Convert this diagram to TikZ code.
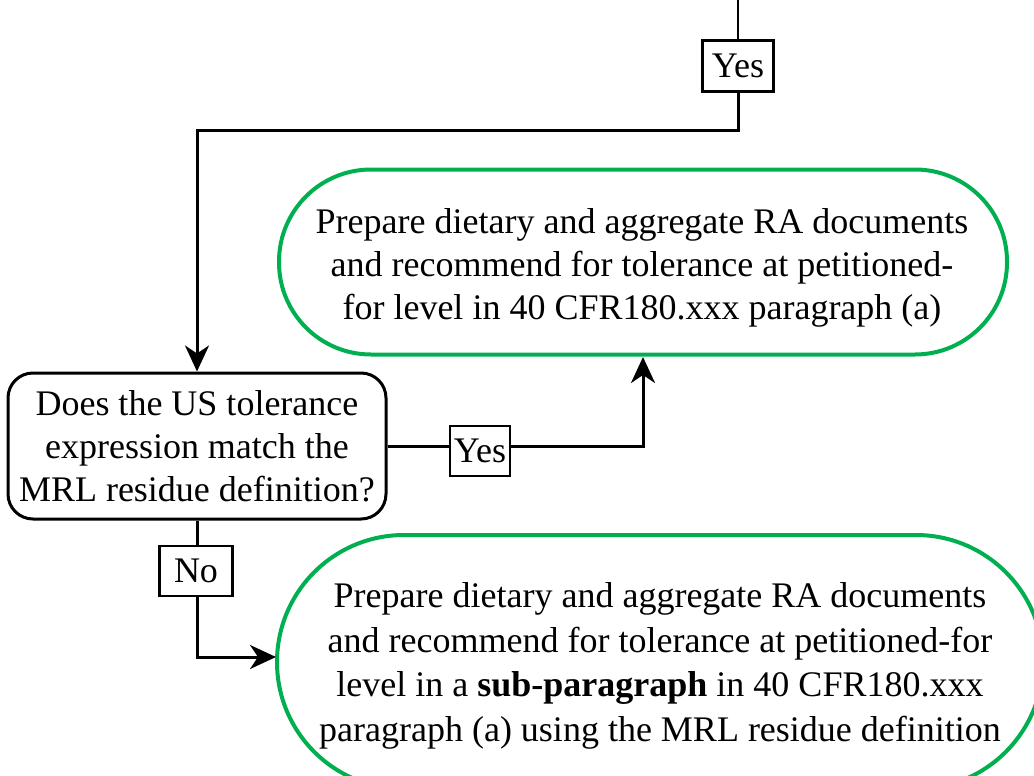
\documentclass[tikz,border=0pt]{standalone}
\usepackage{fontspec}
\setmainfont{Liberation Serif}
\usetikzlibrary{arrows.meta}
\definecolor{termgreen}{RGB}{0,176,80}
\begin{document}
\begin{tikzpicture}[x=1pt,y=-1pt,
  txt/.style={font=\fontsize{36}{43}\selectfont},
  decision/.style={txt, draw, line width=3pt, rounded corners=25pt, minimum width=378pt, minimum height=146pt, inner sep=0pt, align=center},
  term/.style={draw=termgreen, line width=4pt, inner sep=0pt},
  termtext/.style={txt, inner sep=0pt, align=center},
  lbl/.style={txt, draw, fill=white, line width=2.5pt, inner sep=0pt},
  conn/.style={line width=3pt},
  arr/.style={conn, -{Stealth[length=26pt,width=24pt,inset=8pt]}}]
\useasboundingbox (0,0) rectangle (1034,776);
\clip (0,0) rectangle (1034,776);

\node[decision] (dec) at (197,446) {Does the US tolerance\\expression match the\\MRL residue definition?};
\node[term, minimum width=728pt, minimum height=185pt, rounded corners=92pt] (g1) at (643,262) {};
\node[termtext] (g1t) at (642,268)
  {Prepare dietary and aggregate RA documents\\and recommend for tolerance at petitioned-\\for level in 40 CFR180.xxx paragraph (a)};
\node[term, minimum width=766pt, minimum height=254pt, rounded corners=127pt] (g2) at (660,662) {};
\node[termtext, font=\fontsize{36}{44.5}\selectfont] (g2t) at (660,666)
  {Prepare dietary and aggregate RA documents\\and recommend for tolerance at petitioned-for\\level in a \textbf{sub-paragraph} in 40 CFR180.xxx\\paragraph (a) using the MRL residue definition};

\coordinate (top) at (738,0);
\coordinate (k1) at (738,130);
\coordinate (t1) at (643,357);
\coordinate (k3) at (197,657);
\coordinate (t3) at (276,657);

\node[lbl, minimum width=71pt, minimum height=51pt] (yes1) at (738,66) {Yes};
\draw[line width=1.5pt] (top) -- (yes1.north);
\draw[arr] (yes1.south) -- (k1) -| (dec.north);

\draw[arr] (dec.east) -| (t1);
\node[lbl, minimum width=60pt, minimum height=50pt] (yes2) at (480,451) {Yes};

\draw[arr] (dec.south) -- (k3) -- (t3);
\node[lbl, minimum width=73pt, minimum height=50pt] (no) at (196,571) {No};
\end{tikzpicture}
\end{document}
